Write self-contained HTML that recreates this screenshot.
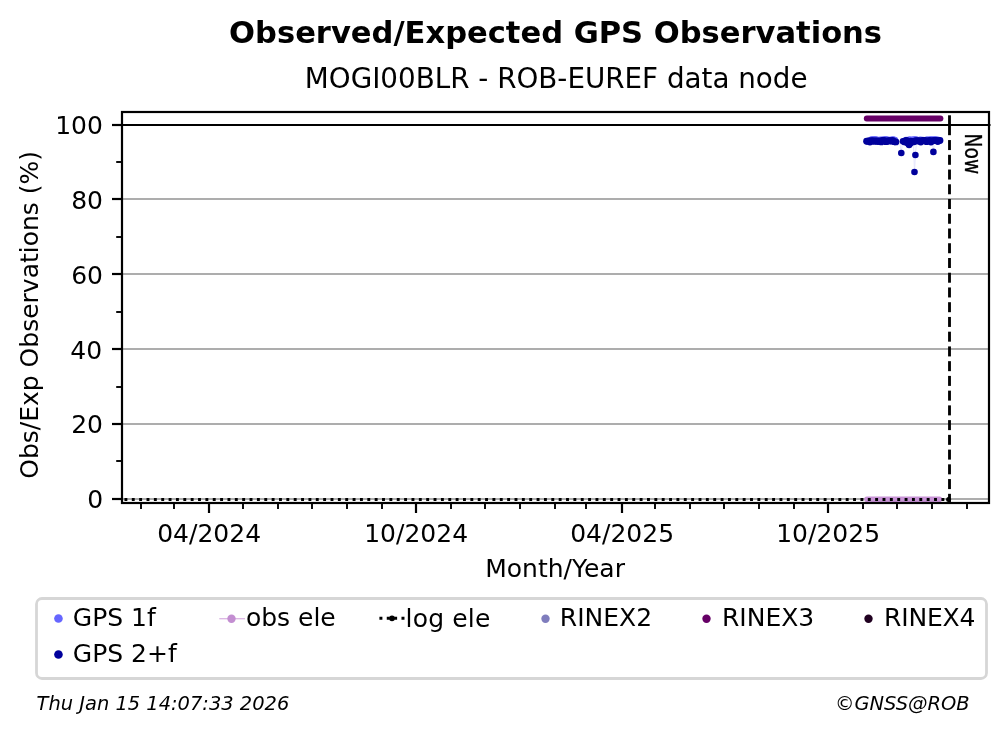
<!DOCTYPE html>
<html lang="en"><head><meta charset="utf-8"><title>Observed/Expected GPS Observations</title>
<style>html,body{margin:0;padding:0;background:#fff}svg{display:block}</style></head>
<body>
<svg width="1008" height="734" viewBox="0 0 1008 734" font-family="DejaVu Sans, Liberation Sans, sans-serif" fill="#000">
<rect x="0" y="0" width="1008" height="734" fill="#fff"/>
<g stroke="#adadad" stroke-width="2.15">
<line x1="122.0" y1="499" x2="989.0" y2="499"/>
<line x1="122.0" y1="424" x2="989.0" y2="424"/>
<line x1="122.0" y1="349" x2="989.0" y2="349"/>
<line x1="122.0" y1="274" x2="989.0" y2="274"/>
<line x1="122.0" y1="199" x2="989.0" y2="199"/>
</g>
<line x1="122.0" y1="125" x2="990.5" y2="125" stroke="#000" stroke-width="2.2"/>
<line x1="866.8" y1="118.45" x2="940.4" y2="118.45" stroke="#660066" stroke-width="6" stroke-linecap="round"/>
<g stroke="#e6e6fd" stroke-width="1" fill="none"><path d="M899.6 141 L901.3 153 L902.6 141"/><path d="M913.4 141 L914.5 172 L915.4 155 L916.6 141"/><path d="M932.3 141 L933.4 152 L934.5 141"/></g>
<g fill="#6666ff">
<circle cx="871.08" cy="139.69" r="3.3"/>
<circle cx="872.21" cy="139.58" r="3.3"/>
<circle cx="873.34" cy="139.82" r="3.3"/>
<circle cx="874.47" cy="139.62" r="3.3"/>
<circle cx="875.60" cy="139.55" r="3.3"/>
<circle cx="876.73" cy="139.82" r="3.3"/>
<circle cx="877.86" cy="140.23" r="3.3"/>
<circle cx="878.99" cy="140.14" r="3.3"/>
<circle cx="880.12" cy="140.11" r="3.3"/>
<circle cx="881.25" cy="139.68" r="3.3"/>
<circle cx="882.38" cy="139.93" r="3.3"/>
<circle cx="883.51" cy="139.72" r="3.3"/>
<circle cx="884.64" cy="139.64" r="3.3"/>
<circle cx="885.77" cy="139.58" r="3.3"/>
<circle cx="886.90" cy="139.67" r="3.3"/>
<circle cx="888.03" cy="140.24" r="3.3"/>
<circle cx="889.16" cy="140.16" r="3.3"/>
<circle cx="890.29" cy="140.15" r="3.3"/>
<circle cx="891.42" cy="140.14" r="3.3"/>
<circle cx="892.55" cy="139.65" r="3.3"/>
<circle cx="893.68" cy="139.75" r="3.3"/>
<circle cx="894.81" cy="140.00" r="3.3"/>
<circle cx="906.11" cy="140.09" r="3.3"/>
<circle cx="907.24" cy="140.18" r="3.3"/>
<circle cx="908.37" cy="140.20" r="3.3"/>
<circle cx="909.50" cy="139.57" r="3.3"/>
<circle cx="910.63" cy="139.98" r="3.3"/>
<circle cx="911.76" cy="140.04" r="3.3"/>
<circle cx="912.89" cy="139.90" r="3.3"/>
<circle cx="914.02" cy="139.64" r="3.3"/>
<circle cx="915.15" cy="139.88" r="3.3"/>
<circle cx="916.28" cy="139.57" r="3.3"/>
<circle cx="917.41" cy="140.25" r="3.3"/>
<circle cx="918.54" cy="140.19" r="3.3"/>
<circle cx="919.67" cy="139.94" r="3.3"/>
<circle cx="920.80" cy="139.74" r="3.3"/>
<circle cx="921.93" cy="140.23" r="3.3"/>
<circle cx="923.06" cy="139.96" r="3.3"/>
<circle cx="924.19" cy="140.21" r="3.3"/>
<circle cx="925.32" cy="140.18" r="3.3"/>
<circle cx="926.45" cy="139.91" r="3.3"/>
<circle cx="927.58" cy="139.83" r="3.3"/>
<circle cx="928.71" cy="139.98" r="3.3"/>
<circle cx="929.84" cy="139.84" r="3.3"/>
<circle cx="930.97" cy="139.63" r="3.3"/>
<circle cx="932.10" cy="139.74" r="3.3"/>
<circle cx="933.23" cy="140.15" r="3.3"/>
<circle cx="934.36" cy="139.53" r="3.3"/>
<circle cx="935.49" cy="139.54" r="3.3"/>
<circle cx="936.62" cy="140.00" r="3.3"/>
<circle cx="937.75" cy="139.72" r="3.3"/>
</g>
<g fill="#00009c">
<circle cx="866.56" cy="141.26" r="3.4"/>
<circle cx="867.69" cy="141.15" r="3.4"/>
<circle cx="868.82" cy="140.93" r="3.4"/>
<circle cx="869.95" cy="142.05" r="3.4"/>
<circle cx="871.08" cy="140.68" r="3.4"/>
<circle cx="872.21" cy="141.05" r="3.4"/>
<circle cx="873.34" cy="140.69" r="3.4"/>
<circle cx="874.47" cy="141.43" r="3.4"/>
<circle cx="875.60" cy="140.82" r="3.4"/>
<circle cx="876.73" cy="140.95" r="3.4"/>
<circle cx="877.86" cy="141.62" r="3.4"/>
<circle cx="878.99" cy="140.90" r="3.4"/>
<circle cx="880.12" cy="141.30" r="3.4"/>
<circle cx="881.25" cy="141.89" r="3.4"/>
<circle cx="882.38" cy="140.52" r="3.4"/>
<circle cx="883.51" cy="140.45" r="3.4"/>
<circle cx="884.64" cy="140.74" r="3.4"/>
<circle cx="885.77" cy="141.65" r="3.4"/>
<circle cx="886.90" cy="141.40" r="3.4"/>
<circle cx="888.03" cy="140.75" r="3.4"/>
<circle cx="889.16" cy="140.91" r="3.4"/>
<circle cx="890.29" cy="140.65" r="3.4"/>
<circle cx="891.42" cy="141.13" r="3.4"/>
<circle cx="892.55" cy="140.42" r="3.4"/>
<circle cx="893.68" cy="141.54" r="3.4"/>
<circle cx="894.81" cy="141.87" r="3.4"/>
<circle cx="895.94" cy="141.97" r="3.4"/>
<circle cx="903.85" cy="141.60" r="3.4"/>
<circle cx="904.98" cy="141.98" r="3.4"/>
<circle cx="906.11" cy="140.38" r="3.4"/>
<circle cx="907.24" cy="140.84" r="3.4"/>
<circle cx="908.37" cy="141.99" r="3.4"/>
<circle cx="909.50" cy="141.67" r="3.4"/>
<circle cx="910.63" cy="141.05" r="3.4"/>
<circle cx="911.76" cy="141.95" r="3.4"/>
<circle cx="912.89" cy="141.40" r="3.4"/>
<circle cx="914.02" cy="141.74" r="3.4"/>
<circle cx="915.15" cy="140.85" r="3.4"/>
<circle cx="916.28" cy="140.68" r="3.4"/>
<circle cx="917.41" cy="141.11" r="3.4"/>
<circle cx="918.54" cy="140.58" r="3.4"/>
<circle cx="919.67" cy="141.00" r="3.4"/>
<circle cx="920.80" cy="141.99" r="3.4"/>
<circle cx="921.93" cy="140.91" r="3.4"/>
<circle cx="923.06" cy="140.37" r="3.4"/>
<circle cx="924.19" cy="140.43" r="3.4"/>
<circle cx="925.32" cy="140.64" r="3.4"/>
<circle cx="926.45" cy="141.68" r="3.4"/>
<circle cx="927.58" cy="140.97" r="3.4"/>
<circle cx="928.71" cy="140.84" r="3.4"/>
<circle cx="929.84" cy="140.52" r="3.4"/>
<circle cx="930.97" cy="142.02" r="3.4"/>
<circle cx="932.10" cy="141.07" r="3.4"/>
<circle cx="933.23" cy="140.70" r="3.4"/>
<circle cx="934.36" cy="140.45" r="3.4"/>
<circle cx="935.49" cy="140.44" r="3.4"/>
<circle cx="936.62" cy="140.64" r="3.4"/>
<circle cx="937.75" cy="141.50" r="3.4"/>
<circle cx="938.88" cy="140.60" r="3.4"/>
<circle cx="940.01" cy="140.42" r="3.4"/>
<circle cx="903.0" cy="141.3" r="3.3"/>
<circle cx="901.3" cy="153.0" r="3.3"/>
<circle cx="915.4" cy="155.0" r="3.3"/>
<circle cx="933.4" cy="151.9" r="3.3"/>
<circle cx="914.5" cy="172.0" r="3.3"/>
<circle cx="909.1" cy="145.0" r="3.3"/>
<circle cx="910.2" cy="143.6" r="3.3"/>
<circle cx="908" cy="143.4" r="3.3"/>
</g>
<line x1="867" y1="499.2" x2="939.4" y2="499.2" stroke="#c893d6" stroke-width="5.6" stroke-linecap="round"/>
<line x1="124.45" y1="499.5" x2="949.4" y2="499.5" stroke="#000" stroke-width="2.9" stroke-dasharray="2.9 4.46"/>
<circle cx="948.6" cy="499.4" r="2.5" fill="#000"/>
<g stroke="#000" stroke-width="2.85">
<line x1="949.5" y1="115.3" x2="949.5" y2="135.2"/>
<line x1="949.5" y1="140.06" x2="949.5" y2="150.06"/>
<line x1="949.5" y1="154.80" x2="949.5" y2="164.80"/>
<line x1="949.5" y1="169.54" x2="949.5" y2="179.54"/>
<line x1="949.5" y1="184.28" x2="949.5" y2="194.28"/>
<line x1="949.5" y1="199.02" x2="949.5" y2="209.02"/>
<line x1="949.5" y1="213.76" x2="949.5" y2="223.76"/>
<line x1="949.5" y1="228.50" x2="949.5" y2="238.50"/>
<line x1="949.5" y1="243.24" x2="949.5" y2="253.24"/>
<line x1="949.5" y1="257.98" x2="949.5" y2="267.98"/>
<line x1="949.5" y1="272.72" x2="949.5" y2="282.72"/>
<line x1="949.5" y1="287.46" x2="949.5" y2="297.46"/>
<line x1="949.5" y1="302.20" x2="949.5" y2="312.20"/>
<line x1="949.5" y1="316.94" x2="949.5" y2="326.94"/>
<line x1="949.5" y1="331.68" x2="949.5" y2="341.68"/>
<line x1="949.5" y1="346.42" x2="949.5" y2="356.42"/>
<line x1="949.5" y1="361.16" x2="949.5" y2="371.16"/>
<line x1="949.5" y1="375.90" x2="949.5" y2="385.90"/>
<line x1="949.5" y1="390.64" x2="949.5" y2="400.64"/>
<line x1="949.5" y1="405.38" x2="949.5" y2="415.38"/>
<line x1="949.5" y1="420.12" x2="949.5" y2="430.12"/>
<line x1="949.5" y1="434.86" x2="949.5" y2="444.86"/>
<line x1="949.5" y1="449.60" x2="949.5" y2="459.60"/>
<line x1="949.5" y1="464.34" x2="949.5" y2="474.34"/>
<line x1="949.5" y1="479.08" x2="949.5" y2="489.08"/>
<line x1="949.5" y1="493.82" x2="949.5" y2="503.50"/>
</g>
<rect x="122.0" y="112.0" width="867.00" height="391.00" fill="none" stroke="#000" stroke-width="2.2"/>
<g stroke="#000" stroke-width="2.2">
<line x1="112.00" y1="499" x2="122.0" y2="499"/>
<line x1="112.00" y1="424" x2="122.0" y2="424"/>
<line x1="112.00" y1="349" x2="122.0" y2="349"/>
<line x1="112.00" y1="274" x2="122.0" y2="274"/>
<line x1="112.00" y1="199" x2="122.0" y2="199"/>
<line x1="112.00" y1="125" x2="122.0" y2="125"/>
</g>
<g stroke="#000" stroke-width="1.9">
<line x1="116.20" y1="461" x2="122.0" y2="461"/>
<line x1="116.20" y1="387" x2="122.0" y2="387"/>
<line x1="116.20" y1="312" x2="122.0" y2="312"/>
<line x1="116.20" y1="237" x2="122.0" y2="237"/>
<line x1="116.20" y1="162" x2="122.0" y2="162"/>
</g>
<g stroke="#000" stroke-width="2.2">
<line x1="209" y1="503.0" x2="209" y2="513.00"/>
<line x1="416" y1="503.0" x2="416" y2="513.00"/>
<line x1="622" y1="503.0" x2="622" y2="513.00"/>
<line x1="828" y1="503.0" x2="828" y2="513.00"/>
</g>
<g stroke="#000" stroke-width="1.9">
<line x1="141" y1="503.0" x2="141" y2="509.00"/>
<line x1="174" y1="503.0" x2="174" y2="509.00"/>
<line x1="243" y1="503.0" x2="243" y2="509.00"/>
<line x1="278" y1="503.0" x2="278" y2="509.00"/>
<line x1="312" y1="503.0" x2="312" y2="509.00"/>
<line x1="347" y1="503.0" x2="347" y2="509.00"/>
<line x1="382" y1="503.0" x2="382" y2="509.00"/>
<line x1="451" y1="503.0" x2="451" y2="509.00"/>
<line x1="485" y1="503.0" x2="485" y2="509.00"/>
<line x1="520" y1="503.0" x2="520" y2="509.00"/>
<line x1="555" y1="503.0" x2="555" y2="509.00"/>
<line x1="586" y1="503.0" x2="586" y2="509.00"/>
<line x1="655" y1="503.0" x2="655" y2="509.00"/>
<line x1="690" y1="503.0" x2="690" y2="509.00"/>
<line x1="724" y1="503.0" x2="724" y2="509.00"/>
<line x1="759" y1="503.0" x2="759" y2="509.00"/>
<line x1="794" y1="503.0" x2="794" y2="509.00"/>
<line x1="863" y1="503.0" x2="863" y2="509.00"/>
<line x1="897" y1="503.0" x2="897" y2="509.00"/>
<line x1="932" y1="503.0" x2="932" y2="509.00"/>
<line x1="967" y1="503.0" x2="967" y2="509.00"/>
</g>
<g font-size="25px" text-anchor="end">
<text x="103.15" y="507.95">0</text>
<text x="103.00" y="432.96">20</text>
<text x="102.10" y="358.97">40</text>
<text x="103.00" y="284.13">60</text>
<text x="103.00" y="209.29">80</text>
<text x="102.90" y="133.75">100</text>
</g>
<g font-size="25px" text-anchor="middle">
<text x="209.15" y="542.3">04/2024</text>
<text x="416.15" y="542.3">10/2024</text>
<text x="622.15" y="542.3">04/2025</text>
<text x="828.15" y="542.3">10/2025</text>
<text x="555.1" y="577.1">Month/Year</text>
</g>
<text font-size="25px" transform="translate(38.1,478.8) rotate(-90)">Obs/Exp Observations (%)</text>
<text font-size="22.2px" stroke="#000" stroke-width="0.3" transform="translate(964.7,133.6) rotate(90) scale(0.84,1)">Now</text>
<text x="555.6" y="43" font-size="30.56px" font-weight="bold" text-anchor="middle">Observed/Expected GPS Observations</text>
<text x="556.2" y="87.5" font-size="27.78px" text-anchor="middle">MOGI00BLR - ROB-EUREF data node</text>
<g transform="translate(0,0.5)">
<rect x="36.5" y="598" width="950" height="80" rx="5.5" ry="5.5" fill="#fff" stroke="#d6d6d6" stroke-width="2.78"/>
<circle cx="58.45" cy="618.0" r="4.3" fill="#6666ff"/>
<circle cx="58.45" cy="654.05" r="4.3" fill="#00009c"/>
<line x1="219.3" y1="618.25" x2="245" y2="618.25" stroke="#d3a6dd" stroke-width="1.1"/>
<circle cx="231.5" cy="618.25" r="4.2" fill="#c38ed1"/>
<line x1="379.4" y1="617.85" x2="405.7" y2="617.85" stroke="#000" stroke-width="3.0" stroke-dasharray="3.0 4.36"/>
<circle cx="392" cy="617.8" r="2.9" fill="#000"/>
<circle cx="545.5" cy="618.25" r="4.2" fill="#7f7dbd"/>
<circle cx="706.5" cy="618.25" r="4.2" fill="#660066"/>
<circle cx="868.5" cy="618.25" r="4.2" fill="#200020"/>
<g font-size="25px">
<text x="72.8" y="625.2">GPS 1f</text>
<text x="72.8" y="661.9">GPS 2+f</text>
<text x="245.9" y="625.2">obs ele</text>
<text x="405.6" y="626.8" letter-spacing="0.15">log ele</text>
<text x="559.8" y="625.2">RINEX2</text>
<text x="722.0" y="625.2">RINEX3</text>
<text x="884.0" y="625.2" textLength="91.4">RINEX4</text>
</g>
<g font-size="19.44px" font-style="italic">
<text x="36.6" y="709.3">Thu Jan 15 14:07:33 2026</text>
<text x="969.6" y="709.3" text-anchor="end">©GNSS@ROB</text>
</g>
</g>
</svg>
</body></html>
